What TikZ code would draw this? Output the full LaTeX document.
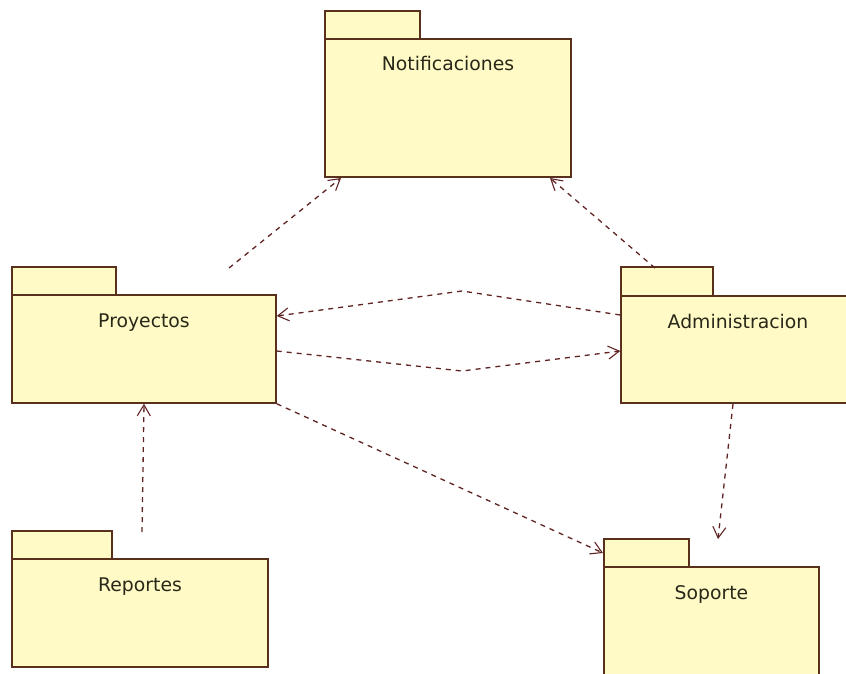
\documentclass[tikz,border=0pt]{standalone}
\usepackage{fontspec}
\setmainfont{DejaVu Sans}
\usetikzlibrary{arrows.meta,calc}
\definecolor{pkgfill}{RGB}{255,250,198}
\definecolor{pkgline}{RGB}{88,48,28}
\definecolor{depline}{RGB}{95,35,35}
\definecolor{txt}{RGB}{40,40,25}
\tikzset{
  pkgbody/.style={draw=pkgline, fill=pkgfill, line width=1.5pt, inner sep=0pt, rectangle},
  pkgtab/.style={draw=pkgline, fill=pkgfill, line width=1.5pt},
  pkgtext/.style={font=\fontsize{18.8}{20}\selectfont, text=txt, anchor=base, inner sep=0pt},
  dep/.style={draw=depline, line width=1.3pt, dash pattern=on 5pt off 5pt,
    -{Straight Barb[length=11pt,width=13pt,line width=1.1pt]}}
}
\begin{document}
\begin{tikzpicture}[x=1pt,y=-1pt]
\useasboundingbox (0,0) rectangle (846,673);
\begin{scope}
\clip (0,0) rectangle (846,673);
% Notificaciones
\draw[pkgtab] (325,39) rectangle (420,11);
\node[pkgbody, minimum width=246pt, minimum height=138pt] (notif) at (448,108) {};
\node[pkgtext] (notifT) at (448,70) {Notificaciones};
% Proyectos
\draw[pkgtab] (12,295) rectangle (116,267);
\node[pkgbody, minimum width=264pt, minimum height=108pt] (proy) at (144,349) {};
\node[pkgtext] (proyT) at (144,327) {Proyectos};
% Administracion
\draw[pkgtab] (621,296) rectangle (713,267);
\node[pkgbody, minimum width=234pt, minimum height=107pt] (admin) at (738,349.5) {};
\node[pkgtext] (adminT) at (738,328) {Administracion};
% Reportes
\draw[pkgtab] (12,559) rectangle (112,531);
\node[pkgbody, minimum width=256pt, minimum height=108pt] (rep) at (140,613) {};
\node[pkgtext] (repT) at (140,591) {Reportes};
% Soporte
\draw[pkgtab] (604,567) rectangle (689,539);
\node[pkgbody, minimum width=215pt, minimum height=140pt] (sop) at (711.5,637) {};
\node[pkgtext] (sopT) at (711.5,599) {Soporte};
\end{scope}
% free ends and attachment points
\coordinate (p1) at (229,268);
\coordinate (n1) at (341,178);
\coordinate (a1) at (655,268);
\coordinate (n2) at (550,178);
\coordinate (m1) at (462,291);
\coordinate (m2) at (462,371);
\coordinate (r1) at (142,532);
% dependencies
\draw[dep] (p1) -- (n1);
\draw[dep] (a1) -- (n2);
\draw[dep] (admin.west |- 0,315) -- (m1) -- (proy.east |- 0,316);
\draw[dep] (proy.east |- 0,351) -- (m2) -- (admin.west |- 0,351);
\draw[dep] (proy.south east) -- (603,553);
\draw[dep] (733,404) -- (718,539);
\draw[dep] (r1) -- (proy.south -| 144,0);
\end{tikzpicture}
\end{document}
